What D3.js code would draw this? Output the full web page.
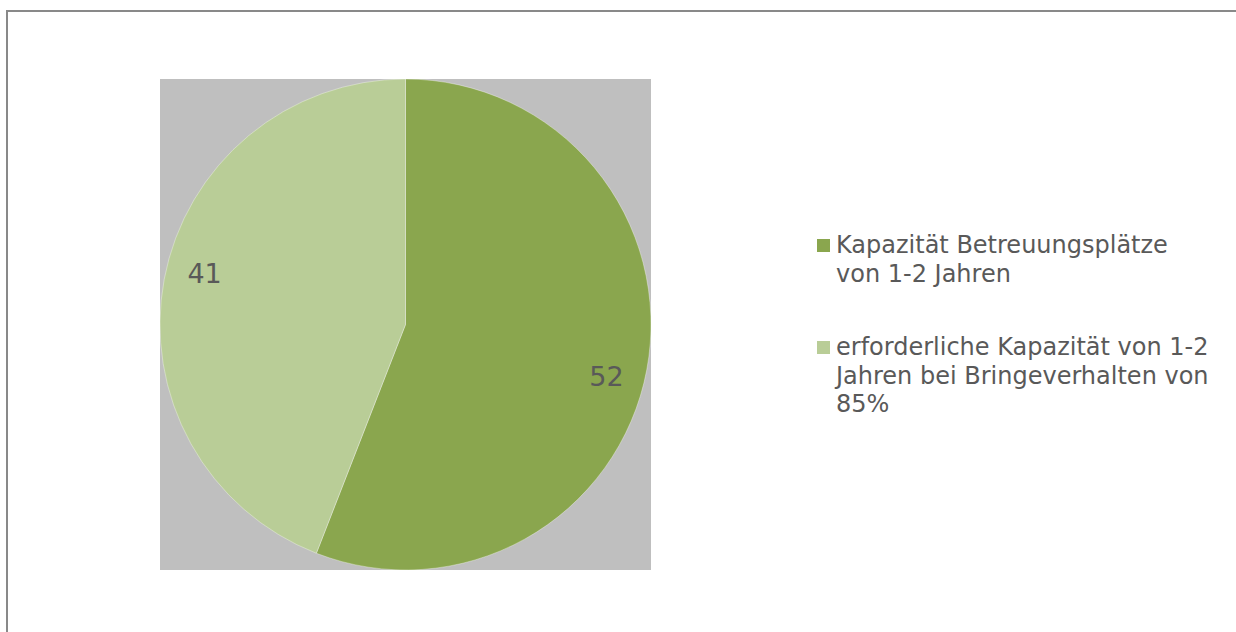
<!DOCTYPE html>
<html><head><meta charset="utf-8">
<script src="https://cdn.jsdelivr.net/npm/d3@7"></script>
<style>html,body{margin:0;padding:0;background:#fff;}svg{display:block;}</style>
</head><body>
<svg id="chart" width="1236" height="632"></svg>
<script>
const categories = ["Kapazität Betreuungsplätze von 1-2 Jahren", "erforderliche Kapazität von 1-2 Jahren bei Bringeverhalten von 85%"];
const values = [52, 41];
const legendLines = [["Kapazität Betreuungsplätze", "von 1-2 Jahren"], ["erforderliche Kapazität von 1-2", "Jahren bei Bringeverhalten von", "85%"]];
const colors = ["#8AA64E", "#B9CD97"];

const svg = d3.select("#chart");
const font = "'DejaVu Sans', Verdana, sans-serif";
const textColor = "#595959";

// outer frame
svg.append("rect").attr("x", 7).attr("y", 11).attr("width", 1300).attr("height", 700)
  .attr("fill", "#fff").attr("stroke", "#898989").attr("stroke-width", 2);

// plot area
const px = 160, py = 79, ps = 491;
svg.append("rect").attr("x", px).attr("y", py).attr("width", ps).attr("height", ps).attr("fill", "#BFBFBF");

const cx = px + ps / 2, cy = py + ps / 2, R = ps / 2;
const pie = d3.pie().sort(null).value(d => d);
const arcs = pie(values);
const arc = d3.arc().innerRadius(0).outerRadius(R);
const g = svg.append("g").attr("transform", `translate(${cx},${cy})`);
g.selectAll("path").data(arcs).enter().append("path")
  .attr("d", arc).attr("fill", (d, i) => colors[i])
  .attr("stroke", "rgba(255,255,255,0.35)").attr("stroke-width", 1);

const lr = R * 0.845;
g.selectAll("text.lbl").data(arcs).enter().append("text").attr("class", "lbl")
  .attr("x", d => Math.sin((d.startAngle + d.endAngle) / 2 + 0.065) * lr)
  .attr("y", d => -Math.cos((d.startAngle + d.endAngle) / 2 + 0.065) * lr)
  .attr("dy", "0.36em")
  .attr("text-anchor", "middle").attr("font-family", font).attr("font-size", 27)
  .attr("fill", textColor).text(d => d.data);

// legend
const lg = svg.append("g");
const itemY = [253, 355];
const lineH = 28.5;
legendLines.forEach((lines, i) => {
  lg.append("rect").attr("x", 817).attr("y", itemY[i] - 14).attr("width", 13).attr("height", 13).attr("fill", colors[i]);
  const t = lg.append("text").attr("font-family", font).attr("font-size", 24).attr("fill", textColor);
  lines.forEach((ln, j) => {
    t.append("tspan").attr("x", 836).attr("y", itemY[i] + j * lineH).text(ln);
  });
});
</script>
</body></html>
